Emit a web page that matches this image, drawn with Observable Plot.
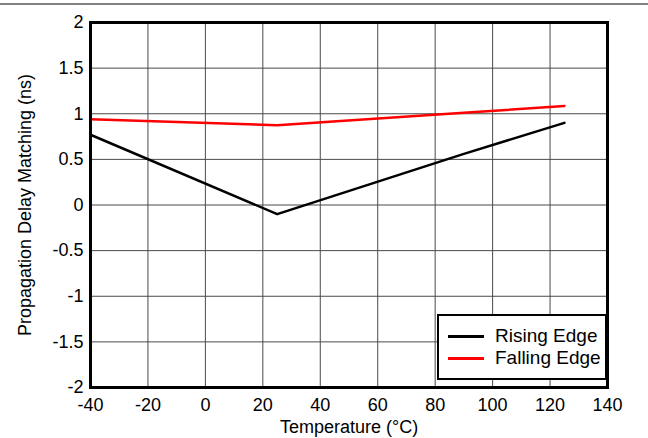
<!DOCTYPE html>
<html>
<head>
<meta charset="utf-8">
<script src="https://cdn.jsdelivr.net/npm/d3@7"></script>
<script src="https://cdn.jsdelivr.net/npm/@observablehq/plot@0.6"></script>
<style>
  html, body { margin: 0; padding: 0; background: #fff; }
  #wrap { position: relative; width: 648px; height: 438px; overflow: hidden; font-family: "Liberation Sans", Arial, sans-serif; }
  #topline { position: absolute; left: 0; top: 3px; width: 648px; height: 2px; background: #808080; }
  #legend { position: absolute; left: 437px; top: 314px; width: 166px; height: 62px; border: 2px solid #000; background: #fff; font-size: 19px; }
  .item { position: absolute; left: 0; display: flex; align-items: center; height: 22px; line-height: 22px; }
  .swatch { display: inline-block; width: 36px; height: 3px; margin-left: 9px; margin-right: 11px; }
</style>
</head>
<body>
<div id="wrap">
  <div id="chart"></div>
  <div id="topline"></div>
  <div id="legend"></div>
</div>
<script>
const temps = [-40, 25, 90, 125];
const risingEdge = [0.77, -0.10, 0.56, 0.90];
const fallingEdge = [0.94, 0.875, 1.01, 1.085];
const seriesNames = ["Rising Edge", "Falling Edge"];
const seriesColors = ["#000000", "#ff0000"];
const xTicks = [-40, -20, 0, 20, 40, 60, 80, 100, 120, 140];
const yTicks = [-2, -1.5, -1, -0.5, 0, 0.5, 1, 1.5, 2];

const data = [];
temps.forEach((t, i) => data.push({t, v: risingEdge[i], s: seriesNames[0]}));
temps.forEach((t, i) => data.push({t, v: fallingEdge[i], s: seriesNames[1]}));

const fmt = d => String(d);

const chart = Plot.plot({
  width: 648,
  height: 438,
  marginLeft: 90,
  marginRight: 41,
  marginTop: 22,
  marginBottom: 51,
  style: { fontFamily: "'Liberation Sans', Arial, sans-serif", fontSize: "18px", color: "#000", background: "#fff" },
  x: { domain: [-40, 140] },
  y: { domain: [-2, 2] },
  color: { domain: seriesNames, range: seriesColors },
  marks: [
    Plot.ruleX(xTicks, { stroke: "#4a4a4a", strokeWidth: 1, strokeOpacity: 1 }),
    Plot.ruleY(yTicks, { stroke: "#4a4a4a", strokeWidth: 1, strokeOpacity: 1 }),
    Plot.line(data, { x: "t", y: "v", z: "s", stroke: "s", strokeWidth: 2.5 }),
    Plot.frame({ stroke: "#000", strokeWidth: 3 }),
    Plot.axisX({ ticks: xTicks, tickFormat: fmt, tickSize: 0, tickPadding: 11, fontSize: 18, label: "Temperature (°C)", labelAnchor: "center", labelArrow: "none", labelOffset: 45 }),
    Plot.axisY({ ticks: yTicks, tickFormat: fmt, tickSize: 0, tickPadding: 7, fontSize: 18, label: "Propagation Delay Matching (ns)", labelAnchor: "center", labelArrow: "none", labelOffset: 72 })
  ]
});
document.getElementById("chart").appendChild(chart);

const legend = document.getElementById("legend");
seriesNames.forEach((name, i) => {
  const item = document.createElement("div");
  item.className = "item";
  item.style.top = (9 + i * 22) + "px";
  const sw = document.createElement("span");
  sw.className = "swatch";
  sw.style.background = seriesColors[i];
  const label = document.createElement("span");
  label.textContent = name;
  item.appendChild(sw);
  item.appendChild(label);
  legend.appendChild(item);
});
</script>
</body>
</html>
